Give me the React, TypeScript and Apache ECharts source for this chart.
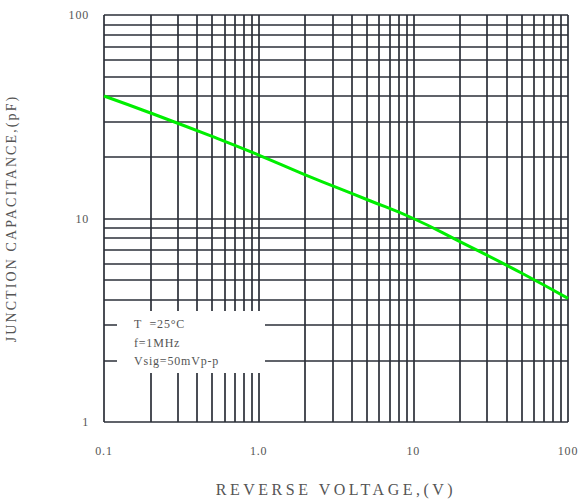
import React, { useEffect, useRef } from "react";
import * as echarts from "echarts";

const xTickValues = [0.1, 1, 10, 100];
const xTickLabels = ["0.1", "1.0", "10", "100"];
const yTickValues = [1, 10, 100];
const yTickLabels = ["1", "10", "100"];
const decadeMultipliers = [1, 2, 3, 4, 5, 6, 7, 8, 9];
const xDecades = [0.1, 1, 10];
const yDecades = [1, 10];
const voltage = [0.1, 0.2, 0.5, 1, 2, 5, 10, 20, 50, 100];
const capacitance = [40, 33, 25.3, 20.5, 16.4, 12.4, 10, 7.7, 5.4, 4.05];
const noteLines = ["T  =25°C", "f=1MHz", "Vsig=50mVp-p"];
const xTitle = "REVERSE VOLTAGE,(V)";
const yTitle = "JUNCTION CAPACITANCE,(pF)";

const FONT = "'Liberation Serif', 'DejaVu Serif', serif";
const GRID_COLOR = "#2b2f38";
const TEXT_COLOR = "#555555";

function pickLabel(values: number[], labels: string[], v: number): string {
  const i = values.findIndex((t) => Math.abs(Math.log10(t) - Math.log10(v)) < 1e-6);
  return i >= 0 ? labels[i] : "";
}

export default function App() {
  const ref = useRef<HTMLDivElement>(null);

  useEffect(() => {
    if (!ref.current) return;
    document.body.style.margin = "0";
    const chart = echarts.init(ref.current, undefined, { renderer: "svg" });

    const xLines = xDecades
      .flatMap((d) => decadeMultipliers.map((m) => +(d * m).toPrecision(3)))
      .concat([100]);
    const yLines = yDecades
      .flatMap((d) => decadeMultipliers.map((m) => +(d * m).toPrecision(3)))
      .concat([100]);

    const lineData = voltage.map((v, i) => [v, capacitance[i]]);

    chart.setOption({
      animation: false,
      grid: {
        left: 104,
        top: 15,
        right: 12,
        bottom: 82,
        containLabel: false,
        outerBoundsMode: "none",
      },
      xAxis: {
        type: "log",
        logBase: 10,
        min: 0.1,
        max: 100,
        splitNumber: 3,
        name: xTitle,
        nameLocation: "middle",
        nameGap: 59,
        nameTextStyle: { fontFamily: FONT, fontSize: 16, color: TEXT_COLOR },
        axisLine: { show: false },
        axisTick: { show: false },
        splitLine: { show: false },
        axisLabel: {
          fontFamily: FONT,
          fontSize: 12,
          color: TEXT_COLOR,
          margin: 23,
          showMinLabel: true,
          showMaxLabel: true,
          hideOverlap: false,
          formatter: (v: number) => pickLabel(xTickValues, xTickLabels, v),
        },
      },
      yAxis: {
        type: "log",
        logBase: 10,
        min: 1,
        max: 100,
        splitNumber: 2,
        name: yTitle,
        nameLocation: "middle",
        nameGap: 86,
        nameRotate: 90,
        nameTextStyle: { fontFamily: FONT, fontSize: 14, color: TEXT_COLOR },
        axisLine: { show: false },
        axisTick: { show: false },
        splitLine: { show: false },
        axisLabel: {
          fontFamily: FONT,
          fontSize: 12,
          color: TEXT_COLOR,
          margin: 15,
          showMinLabel: true,
          showMaxLabel: true,
          formatter: (v: number) => pickLabel(yTickValues, yTickLabels, v),
        },
      },
      graphic: [
        {
          type: "rect",
          z: 100,
          shape: { x: 117, y: 311, width: 148, height: 62 },
          style: { fill: "#ffffff" },
        },
        ...noteLines.map((t, i) => ({
          type: "text",
          z: 101,
          x: 134,
          y: 324 + i * 18.5,
          style: {
            text: t,
            fontFamily: FONT,
            fontSize: 12,
            fill: TEXT_COLOR,
            verticalAlign: "middle",
            align: "left",
          },
        })),
      ],
      series: [
        {
          type: "line",
          z: 1,
          data: [[1, 10]],
          symbol: "none",
          lineStyle: { opacity: 0 },
          silent: true,
          markLine: {
            silent: true,
            symbol: ["none", "none"],
            label: { show: false },
            lineStyle: { color: GRID_COLOR, width: 1.7, type: "solid" },
            emphasis: { disabled: true },
            data: [
              ...xLines.map((v) => ({ xAxis: v })),
              ...yLines.map((v) => ({ yAxis: v })),
            ],
          },
        },
        {
          type: "line",
          z: 10,
          data: lineData,
          smooth: true,
          symbol: "none",
          lineStyle: { color: "#00ee00", width: 3 },
          silent: true,
        },
      ],
    });

    const applySpacing = () => {
      if (!ref.current) return;
      ref.current.querySelectorAll("text").forEach((t) => {
        const c = t.textContent || "";
        const s = (t as SVGTextElement).style;
        if (c === xTitle) s.letterSpacing = "3.5px";
        else if (c === yTitle) s.letterSpacing = "2.1px";
        else s.letterSpacing = "0.8px";
      });
    };
    applySpacing();
    chart.on("finished", applySpacing);

    return () => {
      chart.dispose();
    };
  }, []);

  return <div ref={ref} style={{ width: 580, height: 504 }} />;
}
